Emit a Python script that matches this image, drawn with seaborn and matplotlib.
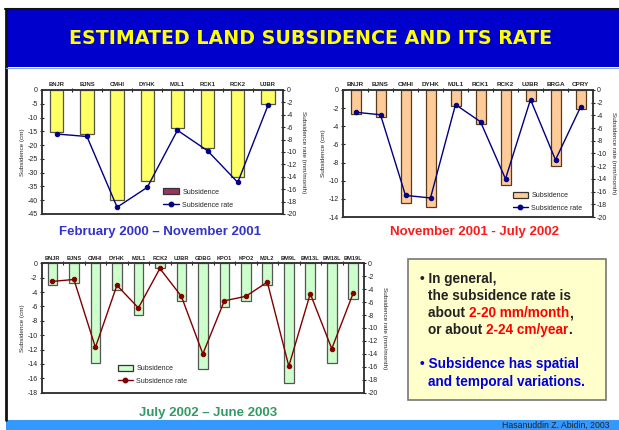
import numpy as np
import matplotlib
matplotlib.use("Agg")
import matplotlib.pyplot as plt
import seaborn as sns
from matplotlib.patches import Rectangle, Patch
from matplotlib.lines import Line2D

# --- data ---
cats1 = ["BNJR", "BJNS", "CMHI", "DYHK", "MJL1", "RCK1", "RCK2", "UJBR"]
subs1 = [-15.1, -16.1, -40.0, -33.0, -13.9, -20.9, -31.6, -5.2]
rate1 = [-7.1, -7.5, -18.9, -15.7, -6.5, -9.8, -14.9, -2.5]

cats2 = ["BNJR", "BJNS", "CMHI", "DYHK", "MJL1", "RCK1", "RCK2", "UJBR", "BRGA", "CPRY"]
subs2 = [-2.7, -3.0, -12.5, -12.9, -1.8, -3.8, -10.5, -1.25, -8.4, -2.1]
rate2 = [-3.5, -3.9, -16.6, -17.0, -2.3, -5.0, -14.0, -1.5, -11.0, -2.7]

cats3 = ["BNJR", "BJNS", "CMHI", "DYHK", "MJL1", "RCK2", "UJBR", "GDBG", "KPO1",
         "KPO2", "MJL2", "BM9L", "BM13L", "BM18L", "BM19L"]
subs3 = [-3.0, -2.7, -13.8, -3.7, -7.2, -0.7, -5.3, -14.7, -6.1,
         -5.3, -3.05, -16.7, -5.0, -13.9, -4.95]
rate3 = [-2.8, -2.5, -13.0, -3.4, -6.9, -0.8, -5.1, -14.0, -5.8,
         -5.1, -2.9, -15.9, -4.7, -13.2, -4.6]

W, H = 619, 430
sns.set_style("ticks")
plt.rcParams["font.family"] = ["Liberation Sans", "DejaVu Sans"]

fig = plt.figure(figsize=(W / 100, H / 100), dpi=100)

# background layer in pixel coordinates
bg = fig.add_axes([0, 0, 1, 1], zorder=0)
bg.set_xlim(0, W)
bg.set_ylim(H, 0)
bg.axis("off")
bg.add_patch(Rectangle((6, 10), W - 6, 57, facecolor="#0000CC", edgecolor="none"))
bg.plot([5, W], [9, 9], color="#111111", lw=1.5)
bg.plot([5.5, 5.5], [9, 420], color="#111111", lw=2)
bg.plot([6, W], [67.5, 67.5], color="#88AADD", lw=0.8)
bg.add_patch(Rectangle((6, 420), W - 6, 10, facecolor="#3399FF", edgecolor="none"))
bg.text(311, 38, "ESTIMATED LAND SUBSIDENCE AND ITS RATE", color="#FFFF00",
        fontsize=13.7, fontweight="bold", family="DejaVu Sans", ha="center", va="center")
bg.text(610, 429.5, "Hasanuddin Z. Abidin, 2003", color="#222222", fontsize=6.3,
        ha="right", va="bottom")


def px_axes(left, right, top, bottom):
    return fig.add_axes([left / W, 1 - bottom / H, (right - left) / W, (bottom - top) / H], zorder=2)


def chart(ax, cats, subs, rate, ylim1, step1, bar_col, bar_edge, bar_w, line_col,
          cat_fs, leg_patch, leg_edge, leg_anchor):
    n = len(cats)
    sns.barplot(x=cats, y=subs, ax=ax, color=bar_col, edgecolor=bar_edge,
                linewidth=0.9, width=bar_w, saturation=1)
    ax2 = ax.twinx()
    sns.pointplot(x=cats, y=rate, ax=ax2, color=line_col, markers="o",
                  markersize=3.2, linewidth=1.0)
    ax.set_xlim(-0.5, n - 0.5)
    ax.set_ylim(ylim1, 0)
    ax2.set_ylim(-20, 0)
    ax.set_yticks(np.arange(ylim1, 0.1, step1))
    ax2.set_yticks(np.arange(-20, 0.1, 2))
    ax.set_yticklabels([f"{int(v)}" for v in np.arange(ylim1, 0.1, step1)])
    ax2.set_yticklabels([f"{int(v)}" for v in np.arange(-20, 0.1, 2)])
    ax.xaxis.tick_top()
    ax.set_xticks(range(n))
    ax.set_xticklabels(cats, fontsize=cat_fs, fontweight="bold")
    ax.set_xticks(np.arange(n - 1) + 0.5, minor=True)
    ax.tick_params(axis="x", which="major", length=0, pad=2, top=True, bottom=False)
    ax.tick_params(axis="x", which="minor", length=3, width=0.8, direction="inout",
                   top=True, bottom=False)
    for a in (ax, ax2):
        a.tick_params(axis="y", length=3, width=0.8, direction="inout", labelsize=5,
                      pad=1.5, colors="#222222")
        for s in a.spines.values():
            s.set_color("#333333")
            s.set_linewidth(1.1)
    ax.set_xlabel("")
    ax2.set_xlabel("")
    ax.set_ylabel("Subsidence (cm)", fontsize=4.6, labelpad=2)
    ax2.set_ylabel("Subsidence rate (mm/month)", fontsize=4.6, rotation=-90, labelpad=6)
    handles = [Patch(facecolor=leg_patch, edgecolor=leg_edge, linewidth=0.9),
               Line2D([], [], color=line_col, marker="o", markersize=3.2, lw=1.0)]
    ax2.legend(handles, ["Subsidence", "Subsidence rate"], loc="center left",
               bbox_to_anchor=leg_anchor, frameon=False, fontsize=5, borderpad=0,
               handlelength=2.2, handleheight=0.9, handletextpad=0.5, labelspacing=0.8)
    return ax2


ax1 = px_axes(41.7, 283, 90, 214)
chart(ax1, cats1, subs1, rate1, -45, 5, "#FFFF66", "#555544", 0.44, "#000080",
      4.2, "#993366", "#333333", (0.49, 0.125))
bg.text(160, 232, "February 2000 \u2013 November 2001", color="#3333CC",
        fontsize=9.5, fontweight="bold", ha="center", va="center")

ax_b = px_axes(343, 593, 90, 217)
chart(ax_b, cats2, subs2, rate2, -14, 2, "#FFCC99", "#5A3A1A", 0.4, "#000080",
      4.6, "#FFCC99", "#333333", (0.665, 0.118))
bg.text(475, 232.5, "November 2001 - July 2002", color="#FF1A1A",
        fontsize=9.5, fontweight="bold", ha="center", va="center")

ax3 = px_axes(41.7, 364, 263.3, 392.7)
chart(ax3, cats3, subs3, rate3, -18, 2, "#CCFFCC", "#555555", 0.45, "#800000",
      4.1, "#CCFFCC", "#333333", (0.225, 0.137))
bg.text(208, 413, "July 2002 \u2013 June 2003", color="#339966",
        fontsize=9.5, fontweight="bold", ha="center", va="center")

# summary box
bg.add_patch(Rectangle((408, 259), 198, 141, facecolor="#FFFFCC", edgecolor="#777777",
                       lw=1.2, zorder=3))
fs = 9.8
black, red, blue = "#222222", "#FF0000", "#0000DD"


def line(x, y, parts):
    t = bg.text(x, y, parts[0][0], color=parts[0][1], fontsize=fs, fontweight="bold",
                ha="left", va="bottom", zorder=4)
    for s, c in parts[1:]:
        t = bg.annotate(s, xy=(1, 0), xycoords=t, color=c, fontsize=fs,
                        fontweight="bold", ha="left", va="bottom", zorder=4)


line(420, 286, [("\u2022 In general,", black)])
line(428, 303, [("the subsidence rate is", black)])
line(428, 320, [("about ", black), ("2-20 mm/month", red), (",", black)])
line(428, 337, [("or about ", black), ("2-24 cm/year", red), (".", black)])
line(420, 371, [("\u2022 Subsidence has spatial", blue)])
line(428, 389, [("and temporal variations.", blue)])

fig.savefig("out.png", dpi=100)
